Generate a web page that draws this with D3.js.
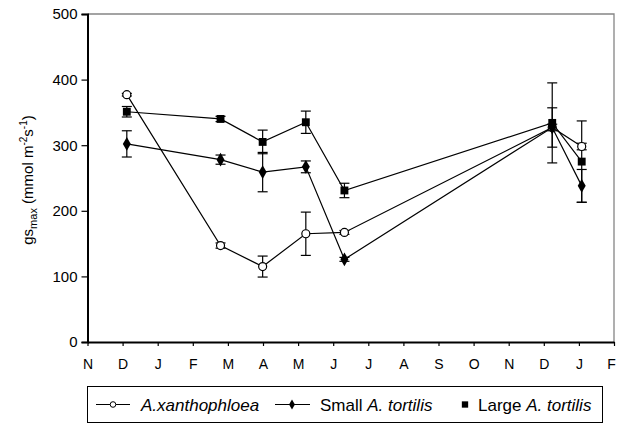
<!DOCTYPE html>
<html>
<head>
<meta charset="utf-8">
<script src="https://cdn.jsdelivr.net/npm/d3@7"></script>
<style>
  html, body { margin: 0; padding: 0; background: #fff; }
  svg { display: block; font-family: "Liberation Sans", Arial, sans-serif; }
</style>
</head>
<body>
<svg id="chart" width="617" height="430"></svg>
<script>
// Month positions, counted from the first November tick (0) of the season
const monthLabels = ["N", "D", "J", "F", "M", "A", "M", "J", "J", "A", "S", "O", "N", "D", "J", "F"];
const sampleMonths = [1.12, 3.79, 4.99, 6.22, 7.32, 13.24, 14.08];
const yTicks = [0, 100, 200, 300, 400, 500];

// Maximum stomatal conductance (mmol m-2 s-1) with standard errors
const xanthophloea = [377, 147, 115, 165, 167, 327, 298];
const xanthophloeaErr = [2, 4, 16, 33, 3, 5, 5];
const smallTortilis = [302, 278, 259, 267, 126, 327, 238];
const smallTortilisErr = [20, 7, 30, 9, 3, 30, 25];
const largeTortilis = [351, 340, 305, 335, 231, 334, 275];
const largeTortilisErr = [8, 4, 18, 17, 11, 61, 62];

const svg = d3.select("#chart");
const plotL = 87.5, plotR = 614, plotT = 14, plotB = 342;
const font = "Liberation Sans, Arial, sans-serif";

const x = d3.scaleLinear().domain([0, monthLabels.length - 1]).range([plotL, plotR]);
const y = d3.scaleLinear().domain([0, 500]).range([plotB, plotT]);

// Plot-area frame (top and right edges)
svg.append("path")
  .attr("d", `M${plotL},${plotT}H${plotR}V${plotB}`)
  .attr("fill", "none").attr("stroke", "#858585").attr("stroke-width", 1.3);

// Y axis
const yAxis = svg.append("g").attr("transform", `translate(${plotL},0)`)
  .call(d3.axisLeft(y).tickValues(yTicks).tickSize(6).tickPadding(4));
yAxis.select(".domain").attr("stroke", "#000").attr("stroke-width", 2);
yAxis.selectAll(".tick line").attr("stroke", "#000").attr("stroke-width", 1.2);
yAxis.selectAll("text").attr("font-size", 15).attr("fill", "#000").attr("font-family", font);

// X axis
const xAxis = svg.append("g").attr("transform", `translate(0,${plotB})`)
  .call(d3.axisBottom(x).tickValues(d3.range(monthLabels.length))
    .tickFormat(i => monthLabels[i]).tickSize(4).tickSizeOuter(0).tickPadding(1));
xAxis.select(".domain").attr("stroke", "#000").attr("stroke-width", 2);
xAxis.selectAll(".tick line").attr("stroke", "#000").attr("stroke-width", 1.2);
xAxis.selectAll("text").attr("font-size", 14).attr("fill", "#000").attr("font-family", font)
  .attr("dy", null).attr("y", 27)
  // the final label sits at the right edge of the page; nudge it inward
  .attr("x", (d, i) => i === monthLabels.length - 1 ? -3 : 0);

// Y axis title with subscript and superscripts
const title = svg.append("text")
  .attr("transform", `translate(33,${(plotT + plotB) / 2 + 2}) rotate(-90)`)
  .attr("text-anchor", "middle").attr("font-size", 15).attr("fill", "#000").attr("font-family", font);
title.append("tspan").text("gs");
title.append("tspan").attr("font-size", 11).attr("dy", 4).text("max");
title.append("tspan").attr("dy", -4).text(" (mmol m");
title.append("tspan").attr("font-size", 10).attr("dy", -6).text("-2");
title.append("tspan").attr("dy", 6).text("s");
title.append("tspan").attr("font-size", 10).attr("dy", -6).text("-1");
title.append("tspan").attr("dy", 6).text(")");

const series = [
  { name: "xan", values: xanthophloea, err: xanthophloeaErr, symbol: "circle" },
  { name: "small", values: smallTortilis, err: smallTortilisErr, symbol: "diamond" },
  { name: "large", values: largeTortilis, err: largeTortilisErr, symbol: "square" }
];

const line = d3.line().x(d => x(d.m)).y(d => y(d.v));
const capHalf = 5;

function drawMarker(g, kind, cx, cy) {
  if (kind === "circle") {
    g.append("circle").attr("cx", cx).attr("cy", cy).attr("r", 4)
      .attr("fill", "#fff").attr("stroke", "#000").attr("stroke-width", 1.2);
  } else if (kind === "diamond") {
    g.append("path").attr("d", d3.symbol(d3.symbolDiamond, 55)())
      .attr("transform", `translate(${cx},${cy})`).attr("fill", "#000");
  } else {
    g.append("path").attr("d", d3.symbol(d3.symbolSquare, 62)())
      .attr("transform", `translate(${cx},${cy})`).attr("fill", "#000");
  }
}

// Error bars
series.forEach(s => {
  const g = svg.append("g").attr("stroke", "#000").attr("stroke-width", 1.2);
  s.values.forEach((v, i) => {
    const cx = x(sampleMonths[i]);
    const y1 = y(v + s.err[i]), y0 = y(v - s.err[i]);
    g.append("line").attr("x1", cx).attr("x2", cx).attr("y1", y1).attr("y2", y0);
    g.append("line").attr("x1", cx - capHalf).attr("x2", cx + capHalf).attr("y1", y1).attr("y2", y1);
    g.append("line").attr("x1", cx - capHalf).attr("x2", cx + capHalf).attr("y1", y0).attr("y2", y0);
  });
});

// Lines
series.forEach(s => {
  svg.append("path")
    .datum(s.values.map((v, i) => ({ m: sampleMonths[i], v })))
    .attr("d", line).attr("fill", "none").attr("stroke", "#000").attr("stroke-width", 1.2);
});

// Markers
series.forEach(s => {
  const g = svg.append("g");
  s.values.forEach((v, i) => drawMarker(g, s.symbol, x(sampleMonths[i]), y(v)));
});

// Legend
const lg = svg.append("g").attr("font-family", font);
lg.append("rect").attr("x", 87.5).attr("y", 386.5).attr("width", 515).attr("height", 36)
  .attr("fill", "#fff").attr("stroke", "#000").attr("stroke-width", 1);
const ly = 404.5, lfs = 17;
lg.append("line").attr("x1", 96).attr("x2", 130).attr("y1", ly).attr("y2", ly).attr("stroke", "#000");
lg.append("circle").attr("cx", 113).attr("cy", ly).attr("r", 2.8).attr("fill", "#fff").attr("stroke", "#000");
lg.append("text").attr("x", 141).attr("y", ly + 6).attr("font-size", lfs).attr("font-style", "italic").text("A.xanthophloea");

lg.append("line").attr("x1", 275).attr("x2", 310).attr("y1", ly).attr("y2", ly).attr("stroke", "#000");
lg.append("path").attr("d", d3.symbol(d3.symbolDiamond, 30)()).attr("transform", `translate(292,${ly})`);
const t2 = lg.append("text").attr("x", 320).attr("y", ly + 6).attr("font-size", lfs);
t2.append("tspan").text("Small ");
t2.append("tspan").attr("font-style", "italic").text("A. tortilis");

lg.append("path").attr("d", d3.symbol(d3.symbolSquare, 40)()).attr("transform", `translate(465,${ly})`);
const t3 = lg.append("text").attr("x", 478).attr("y", ly + 6).attr("font-size", lfs);
t3.append("tspan").text("Large ");
t3.append("tspan").attr("font-style", "italic").text("A. tortilis");
</script>
</body>
</html>
